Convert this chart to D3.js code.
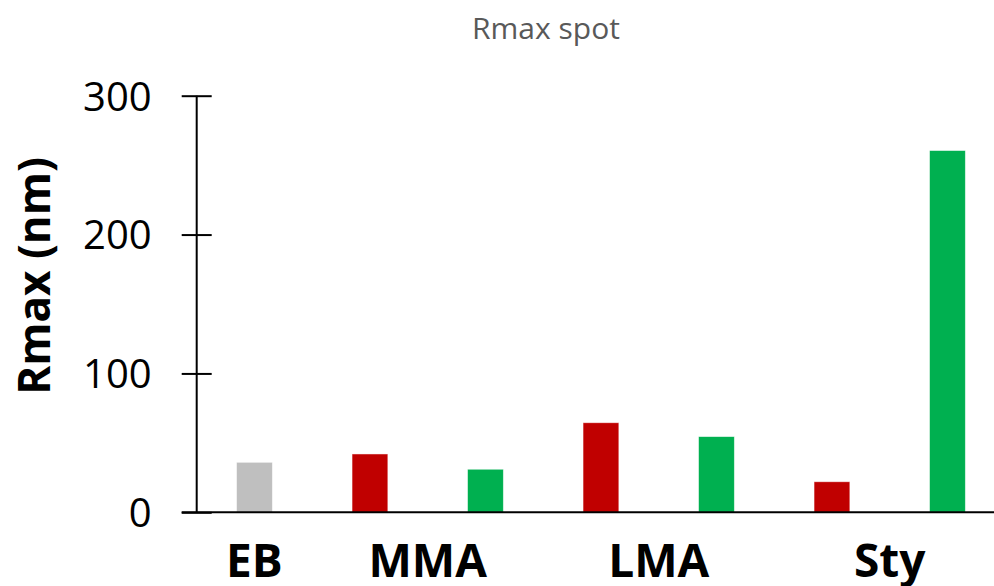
<!DOCTYPE html>
<html>
<head>
<meta charset="utf-8">
<script src="https://cdn.jsdelivr.net/npm/d3@7"></script>
<style>
  html, body { margin: 0; padding: 0; background: #fff; }
  svg { display: block; }
</style>
</head>
<body>
<svg id="chart" width="994" height="586"></svg>
<script>
// Rmax per sample slot (nm)
const slots = ["EB", "MMA-1", "MMA-2", "LMA-1", "LMA-2", "Sty-1", "Sty-2"];
const values = [36, 42, 31, 64.5, 54.5, 22, 260.5];
const kinds = ["ref", "red", "green", "red", "green", "red", "green"];
// Group labels along the bottom, with the slots each one spans
const groups = ["EB", "MMA", "LMA", "Sty"];
const groupSlots = [[0], [1, 2], [3, 4], [5, 6]];
const yTicks = [0, 100, 200, 300];
const title = "Rmax spot";
const yTitle = "Rmax (nm)";

const colors = { ref: "#BFBFBF", red: "#C00000", green: "#00B050" };

const svg = d3.select("#chart");
const axisX = 196.7, baseY = 512.3, topY = 95.7, step = 115.5;

const x = d3.scaleBand()
  .domain(d3.range(slots.length))
  .range([axisX, axisX + step * slots.length])
  .paddingInner(0.69)
  .paddingOuter(0.345);

const y = d3.scaleLinear().domain([0, 300]).range([baseY, topY]);

// Bars
svg.append("g").selectAll("rect")
  .data(values)
  .join("rect")
  .attr("x", (d, i) => x(i))
  .attr("y", d => y(d))
  .attr("width", x.bandwidth())
  .attr("height", d => y(0) - y(d))
  .attr("fill", (d, i) => colors[kinds[i]])
  .attr("stroke", "#ffffff")
  .attr("stroke-opacity", 0.6)
  .attr("stroke-width", 0.8);

// Y axis with ticks crossing the line
const yAxis = d3.axisLeft(y)
  .tickValues(yTicks)
  .tickSize(15)
  .tickPadding(30)
  .tickFormat(d3.format("d"));

const gy = svg.append("g")
  .attr("transform", `translate(${axisX},0)`)
  .call(yAxis);
gy.select(".domain").remove();
gy.selectAll(".tick line")
  .attr("x1", -15).attr("x2", 15)
  .attr("stroke", "#000").attr("stroke-width", 2);
gy.selectAll(".tick text")
  .attr("font-family", "'Open Sans', sans-serif")
  .attr("font-size", 40)
  .attr("fill", "#000")
  .attr("dy", "0.36em");
gy.append("line")
  .attr("x1", 0).attr("x2", 0)
  .attr("y1", y(300)).attr("y2", y(0))
  .attr("stroke", "#000").attr("stroke-width", 2);

// X axis baseline
svg.append("line")
  .attr("x1", axisX - 15).attr("x2", 994)
  .attr("y1", y(0)).attr("y2", y(0))
  .attr("stroke", "#000").attr("stroke-width", 2);

// Group labels
svg.append("g").selectAll("text")
  .data(groups)
  .join("text")
  .attr("x", (d, i) => d3.mean(groupSlots[i], s => x(s) + x.bandwidth() / 2))
  .attr("y", 577)
  .attr("text-anchor", "middle")
  .attr("font-family", "'Open Sans', sans-serif")
  .attr("font-weight", "bold")
  .attr("font-size", 46)
  .attr("fill", "#000")
  .text(d => d);

// Y axis title
svg.append("text")
  .attr("transform", "translate(50,276) rotate(-90)")
  .attr("text-anchor", "middle")
  .attr("font-family", "'Open Sans', sans-serif")
  .attr("font-weight", "bold")
  .attr("font-size", 44)
  .attr("fill", "#000")
  .text(yTitle);

// Chart title
svg.append("text")
  .attr("x", 546)
  .attr("y", 39)
  .attr("text-anchor", "middle")
  .attr("font-family", "'Open Sans', sans-serif")
  .attr("font-size", 30)
  .attr("fill", "#595959")
  .text(title);
</script>
</body>
</html>
